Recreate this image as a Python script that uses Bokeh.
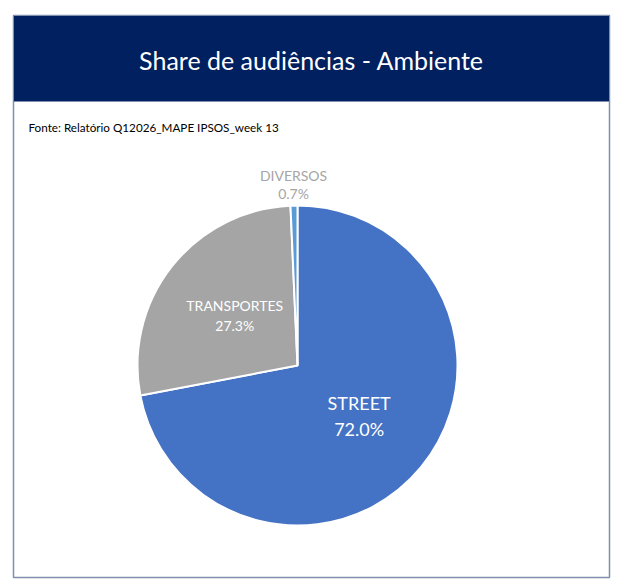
import math
from bokeh.plotting import figure
from bokeh.models import Range1d, ColumnDataSource
from bokeh.core.properties import value
from bokeh.embed import file_html
from bokeh.resources import INLINE

# data
categories = ["STREET", "TRANSPORTES", "DIVERSOS"]
shares = [72.0, 27.3, 0.7]
colors = ["#4472C4", "#A5A5A5", "#5B9BD5"]
title_text = "Share de audiências - Ambiente"
source_text = "Fonte: Relatório Q12026_MAPE IPSOS_week 13"

W, H = 617, 588
p = figure(width=W, height=H, output_backend="svg", toolbar_location=None,
           x_range=Range1d(0, W), y_range=Range1d(0, H), min_border=0)
p.axis.visible = False
p.grid.visible = False
p.outline_line_color = None
p.background_fill_color = "white"
p.border_fill_color = "white"

# frame + title bar (page pixels, y measured upwards)
p.quad(left=[13], right=[609], bottom=[11], top=[573], fill_color="white",
       line_color="#7F8FAD", line_width=1.5)
p.quad(left=[13], right=[609], bottom=[487], top=[573], fill_color="#002060",
       line_color="#7F8FAD", line_width=1)
p.text(x=[311], y=[529], text=[title_text], text_color="white",
       text_font=value("Lato"), text_font_size="25px",
       text_align="center", text_baseline="middle")
p.text(x=[28], y=[462], text=[source_text], text_color="#000000",
       text_font=value("Lato"), text_font_size="11.7px",
       text_align="left", text_baseline="middle")

# pie
cx, cy, r = 297, 223, 160
total = sum(shares)
starts, ends, lx, ly = [], [], [], []
acc = 0.0
for s in shares:
    a0 = math.pi / 2 - 2 * math.pi * acc / total
    a1 = math.pi / 2 - 2 * math.pi * (acc + s) / total
    starts.append(a0)
    ends.append(a1)
    mid = (a0 + a1) / 2
    k = 0.5 if s > 5 else 1.13
    lx.append(cx + k * r * math.cos(mid))
    ly.append(cy + k * r * math.sin(mid))
    acc += s

src = ColumnDataSource(dict(start=starts, end=ends, color=colors))
p.wedge(x=cx, y=cy, radius=r, start_angle="start", end_angle="end",
        direction="clock", fill_color="color", line_color="white",
        line_width=2, source=src)

for i, name in enumerate(categories):
    big = i == 0
    size = "18px" if big else "14px"
    col = "#A5A5A5" if shares[i] < 5 else "white"
    gap = 13 if big else (10 if shares[i] > 5 else 9)
    p.text(x=[lx[i]], y=[ly[i] + gap], text=[name], text_color=col,
           text_font=value("Lato"), text_font_size=size,
           text_align="center", text_baseline="middle")
    p.text(x=[lx[i]], y=[ly[i] - gap], text=["%.1f%%" % shares[i]],
           text_color=col, text_font=value("Lato"), text_font_size=size,
           text_align="center", text_baseline="middle")

open("out.html", "w").write(file_html(p, INLINE))
